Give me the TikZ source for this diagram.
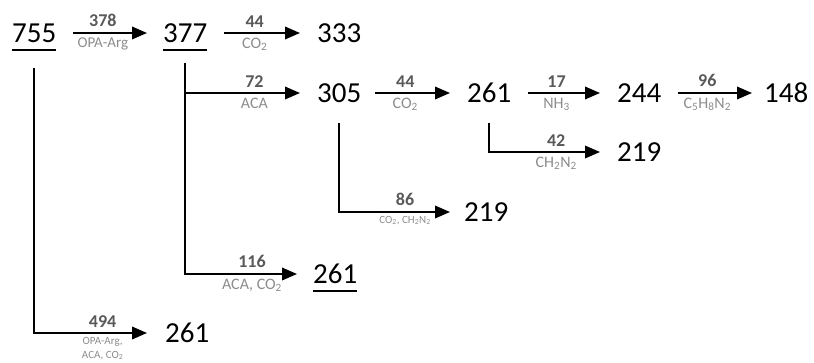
\documentclass[tikz,border=0pt]{standalone}
\usepackage{fontspec}
\setmainfont{Carlito}
\usetikzlibrary{arrows.meta}
\definecolor{lblnum}{RGB}{89,89,89}
\definecolor{lblsub}{RGB}{140,140,140}
\begin{document}
\begin{tikzpicture}[x=1pt,y=-1pt,
  num/.style={inner sep=0pt, anchor=west, font=\fontsize{29}{29}\selectfont},
  conn/.style={line width=2.3pt, line join=miter},
  arr/.style={line width=1.9pt, -{Triangle[length=15pt,width=12.5pt]}},
  toplab/.style={pos=0.4, above=5pt, inner sep=0pt, text=lblnum, font=\bfseries\fontsize{18}{18}\selectfont},
  botlab/.style={pos=0.4, below=4pt, inner sep=0pt, text=lblsub, font=\fontsize{16}{16}\selectfont},
  oplab/.style={botlab, font=\fontsize{15}{15}\selectfont},
  smalllab/.style={pos=0.4, below=3pt, inner sep=0pt, text=lblsub, font=\fontsize{11}{14}\selectfont, align=center},
  uline/.style={line width=2pt}]
\useasboundingbox (0,0) rectangle (814,363);

% main values
\node[num] (n755) at (12,33) {755};
\node[num] (n377) at (163,33) {377};
\node[num] (n333) at (317,33) {333};
\node[num] (n305) at (317,93) {305};
\node[num] (n261a) at (467,93) {261};
\node[num] (n244) at (617,93) {244};
\node[num] (n148) at (764,93) {148};
\node[num] (n219a) at (617,152) {219};
\node[num] (n219b) at (464,212) {219};
\node[num] (n261b) at (313,274) {261};
\node[num] (n261c) at (165,333) {261};

% underlines
\foreach \n in {n755,n377,n261b}
  \draw[uline] ([yshift=-7pt]\n.south west) -- ([yshift=-7pt]\n.south east);

% junctions
\coordinate (j305) at (224,93);
\coordinate (j219a) at (527,152);
\coordinate (j219b) at (375,212);
\coordinate (j261b) at (222,274);
\coordinate (j261c) at (73,333);

% branch connectors
\draw[conn] ([yshift=-25pt]n755.south) |- (j261c);
\draw[conn] ([yshift=-20pt]n377.south) |- (j261b);
\draw[conn] (j305 -| n377) -- (j305);
\draw[conn] ([yshift=-20pt]n305.south) |- (j219b);
\draw[conn] ([yshift=-20pt]n261a.south) |- (j219a);

% arrows
\draw[arr] ([xshift=17pt]n755.east) -- ([xshift=-16pt]n377.west)
  node[toplab] {378} node[oplab] {OPA-Arg};
\draw[arr] ([xshift=17pt]n377.east) -- ([xshift=-17pt]n333.west)
  node[toplab] {44} node[botlab] {CO\textsubscript{2}};
\draw[arr] (j305) -- ([xshift=-17pt]n305.west)
  node[toplab] {72} node[botlab] {ACA};
\draw[arr] ([xshift=14pt]n305.east) -- ([xshift=-17pt]n261a.west)
  node[toplab] {44} node[botlab] {CO\textsubscript{2}};
\draw[arr] ([xshift=16pt]n261a.east) -- ([xshift=-17pt]n244.west)
  node[toplab] {17} node[botlab] {NH\textsubscript{3}};
\draw[arr] ([xshift=16pt]n244.east) -- ([xshift=-12pt]n148.west)
  node[toplab] {96} node[botlab] {C\textsubscript{5}H\textsubscript{8}N\textsubscript{2}};
\draw[arr] (j219a) -- ([xshift=-17pt]n219a.west)
  node[toplab] {42} node[botlab] {CH\textsubscript{2}N\textsubscript{2}};
\draw[arr] (j219b) -- ([xshift=-14pt]n219b.west)
  node[toplab] {86} node[smalllab] {CO\textsubscript{2}, CH\textsubscript{2}N\textsubscript{2}};
\draw[arr] (j261b) -- ([xshift=-16pt]n261b.west)
  node[toplab] {116} node[botlab] {ACA, CO\textsubscript{2}};
\draw[arr] (j261c) -- ([xshift=-18pt]n261c.west)
  node[toplab] {494} node[smalllab] {OPA-Arg,\\ACA, CO\textsubscript{2}};
\end{tikzpicture}
\end{document}
